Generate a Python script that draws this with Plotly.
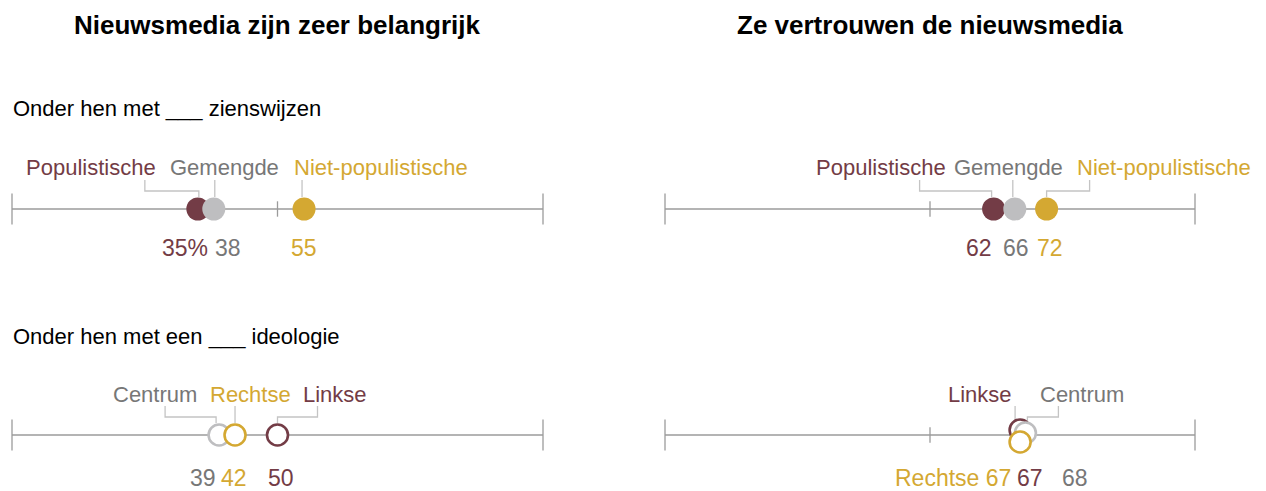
import plotly.graph_objects as go

# ---------------- data ----------------
panel_titles = ["Nieuwsmedia zijn zeer belangrijk", "Ze vertrouwen de nieuwsmedia"]
row_titles = ["Onder hen met ___ zienswijzen", "Onder hen met een ___ ideologie"]

views_groups = ["Populistische", "Gemengde", "Niet-populistische"]
views_importance = [35, 38, 55]
views_trust = [62, 66, 72]

ideo_groups = ["Linkse", "Centrum", "Rechtse"]
ideo_importance = [50, 39, 42]
ideo_trust = [67, 68, 67]

# ---------------- styles ----------------
W, H = 1266, 491
OFF = 8  # page body margin in the browser
MAROON = "#733C46"
GOLD = "#D4A832"
GRAY_DOT = "#BEBEC0"
GRAY_TXT = "#777777"
AXIS = "#9B9B9B"
CONN = "#C4C4C4"
FONT = "Liberation Sans, Arial, sans-serif"
TITLE_FONT = "Liberation Sans Narrow, Arial Narrow, sans-serif"

view_dot_colors = [MAROON, GRAY_DOT, GOLD]
view_txt_colors = [MAROON, GRAY_TXT, GOLD]
ideo_dot_colors = [MAROON, GRAY_DOT, GOLD]
ideo_txt_colors = [MAROON, GRAY_TXT, GOLD]

ROW_TOP, ROW_BOT = 1, 0
PX_PER_Y = 226.0  # pixel distance between the two rows
LBL_SIZE, VAL_SIZE = 22, 23

fig = go.Figure()

def axis_line(xref_axis, row):
    fig.add_trace(go.Scatter(x=[0, 100], y=[row, row], mode="lines",
                             line=dict(color=AXIS, width=1.3), xaxis=xref_axis, yaxis="y",
                             hoverinfo="skip", showlegend=False, cliponaxis=False))
    fig.add_trace(go.Scatter(x=[0, 100], y=[row, row], mode="markers",
                             marker=dict(symbol="line-ns", size=22, line=dict(color=AXIS, width=1.3)),
                             xaxis=xref_axis, yaxis="y", hoverinfo="skip", showlegend=False, cliponaxis=False))
    fig.add_trace(go.Scatter(x=[50], y=[row], mode="markers",
                             marker=dict(symbol="line-ns", size=11, line=dict(color=AXIS, width=1.3)),
                             xaxis=xref_axis, yaxis="y", hoverinfo="skip", showlegend=False, cliponaxis=False))

def dot(xref_axis, x, row, color, filled, dy_px=0):
    y = row + dy_px / PX_PER_Y
    if filled:
        marker = dict(symbol="circle", size=23, color=color, line=dict(width=0))
    else:
        marker = dict(symbol="circle", size=21, color="white", line=dict(color=color, width=2.6))
    fig.add_trace(go.Scatter(x=[x], y=[y], mode="markers", marker=marker,
                             xaxis=xref_axis, yaxis="y", hoverinfo="skip", showlegend=False, cliponaxis=False))

def label(xref, x, row, text, color, xshift, yshift, size=LBL_SIZE):
    fig.add_annotation(x=x, y=row, xref=xref, yref="y", text=text, showarrow=False,
                       xanchor="center", yanchor="middle", xshift=xshift, yshift=yshift,
                       font=dict(family=FONT, size=size, color=color))

def connector(xref, x, row, pts):
    # pts: list of (dx, dy) in pixels relative to the dot centre (dy upward)
    path = "M " + " L ".join(f"{dx},{dy}" for dx, dy in pts)
    fig.add_shape(type="path", xref=xref, yref="y", xsizemode="pixel", ysizemode="pixel",
                  xanchor=x, yanchor=row, path=path, line=dict(color=CONN, width=1.3), layer="below")

# ---- axes lines ----
for ax in ["x", "x2"]:
    for row in [ROW_TOP, ROW_BOT]:
        axis_line(ax, row)

# ---- top row: views ----
LBL_UP, VAL_DN = 42, -39
# left panel (importance)
conn_views_left = [[(-53, 29), (-53, 18), (1, 18), (1, 12)], [(1, 29), (1, 12)], [(-2, 29), (-2, 12)]]
lbl_shift_views_left = [-107, 11, 77]
val_shift_views_left = [-13, 14, 0]
for i, g in enumerate(views_groups):
    connector("x", views_importance[i], ROW_TOP, conn_views_left[i])
for i, g in enumerate(views_groups):
    dot("x", views_importance[i], ROW_TOP, view_dot_colors[i], True)
    label("x", views_importance[i], ROW_TOP, g, view_txt_colors[i], lbl_shift_views_left[i], LBL_UP)
    txt = f"{views_importance[i]}%" if i == 0 else f"{views_importance[i]}"
    label("x", views_importance[i], ROW_TOP, txt, view_txt_colors[i], val_shift_views_left[i], VAL_DN, VAL_SIZE)

# right panel (trust)
conn_views_right = [[(-74, 29), (-74, 18), (-2, 18), (-2, 12)], [(-2, 29), (-2, 12)], [(43, 29), (43, 18), (0, 18), (0, 12)]]
lbl_shift_views_right = [-113, -6, 117]
val_shift_views_right = [-15, 1, 3]
for i, g in enumerate(views_groups):
    connector("x2", views_trust[i], ROW_TOP, conn_views_right[i])
for i, g in enumerate(views_groups):
    dot("x2", views_trust[i], ROW_TOP, view_dot_colors[i], True)
    label("x2", views_trust[i], ROW_TOP, g, view_txt_colors[i], lbl_shift_views_right[i], LBL_UP)
    label("x2", views_trust[i], ROW_TOP, f"{views_trust[i]}", view_txt_colors[i], val_shift_views_right[i], VAL_DN, VAL_SIZE)

# ---- bottom row: ideology ----
LBL_UP2, VAL_DN2 = 41, -43
conn_ideo_left = [[(40, 29), (40, 18), (0, 18), (0, 12)], [(-54, 29), (-54, 18), (-3, 18), (-3, 12)], [(0, 29), (0, 12)]]
lbl_shift_ideo_left = [57, -64, 15]
val_shift_ideo_left = [3, -16, -1]
for i, g in enumerate(ideo_groups):
    connector("x", ideo_importance[i], ROW_BOT, conn_ideo_left[i])
for i, g in enumerate(ideo_groups):
    dot("x", ideo_importance[i], ROW_BOT, ideo_dot_colors[i], False)
    label("x", ideo_importance[i], ROW_BOT, g, ideo_txt_colors[i], lbl_shift_ideo_left[i], LBL_UP2)
    label("x", ideo_importance[i], ROW_BOT, f"{ideo_importance[i]}", ideo_txt_colors[i], val_shift_ideo_left[i], VAL_DN2, VAL_SIZE)

# right panel (trust) – overlapping circles nudged vertically
dy_ideo_right = [5, 2, -7]
conn_ideo_right = [[(-5, 29), (-5, 16)], [(33, 29), (33, 18), (2, 18), (2, 13)], None]
lbl_shift_ideo_right = [-40, 57, None]
val_shift_ideo_right = [10, 50, -67]
for i, g in enumerate(ideo_groups):
    if conn_ideo_right[i]:
        connector("x2", ideo_trust[i], ROW_BOT, conn_ideo_right[i])
for i, g in enumerate(ideo_groups):
    dot("x2", ideo_trust[i], ROW_BOT, ideo_dot_colors[i], False, dy_ideo_right[i])
    if lbl_shift_ideo_right[i] is not None:
        label("x2", ideo_trust[i], ROW_BOT, g, ideo_txt_colors[i], lbl_shift_ideo_right[i], LBL_UP2)
        txt = f"{ideo_trust[i]}"
    else:
        txt = f"{g} {ideo_trust[i]}"
    label("x2", ideo_trust[i], ROW_BOT, txt, ideo_txt_colors[i], val_shift_ideo_right[i], VAL_DN2, VAL_SIZE)

# ---- titles ----
for ax, t in zip(["x", "x2"], panel_titles):
    fig.add_annotation(x=50, y=1 - (25 - OFF) / H, xref=ax, yref="paper", text=f"<b>{t}</b>", showarrow=False,
                       xanchor="center", yanchor="middle",
                       font=dict(family=TITLE_FONT, size=26, color="#000000"))
for t, ypix in zip(row_titles, [108, 336]):
    fig.add_annotation(x=0, y=1 - (ypix - OFF) / H, xref="x", yref="paper", text=t, showarrow=False,
                       xanchor="left", yanchor="middle", xshift=-1,
                       font=dict(family=FONT, size=22, color="#000000"))

y_top = (435 - OFF) / PX_PER_Y
y_bot = (435 - OFF - H) / PX_PER_Y
fig.update_layout(
    width=W, height=H, margin=dict(l=0, r=0, t=0, b=0),
    paper_bgcolor="white", plot_bgcolor="white", showlegend=False,
    xaxis=dict(domain=[(12 - OFF) / W, (543 - OFF) / W], range=[0, 100], visible=False, fixedrange=True),
    xaxis2=dict(domain=[(665 - OFF) / W, (1195 - OFF) / W], range=[0, 100], visible=False, fixedrange=True, anchor="y"),
    yaxis=dict(domain=[0, 1], range=[y_bot, y_top], visible=False, fixedrange=True),
)

fig.write_html("out.html")
